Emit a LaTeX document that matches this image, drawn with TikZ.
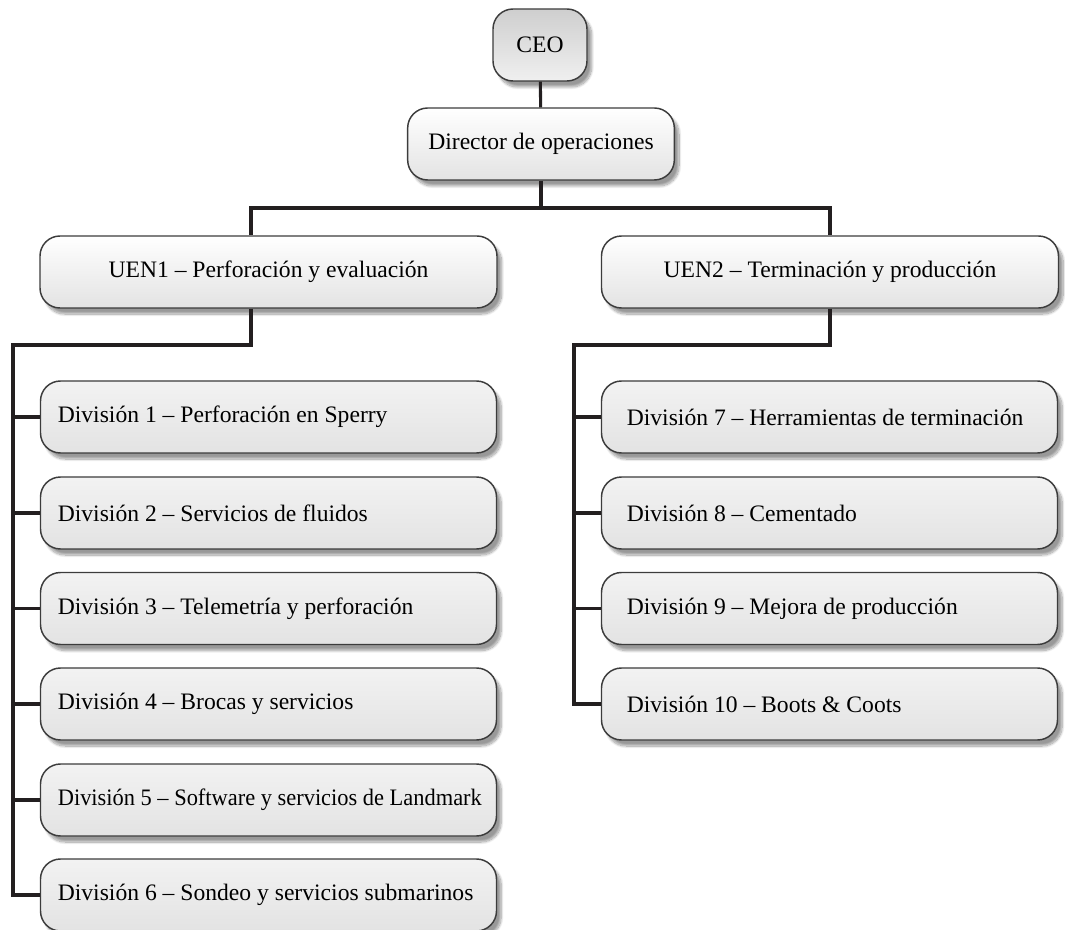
\documentclass[tikz,border=0pt]{standalone}
\usepackage{fontspec}
\setmainfont{Liberation Serif}
\newfontfamily\narrowfont[FakeStretch=0.95]{Liberation Serif}
\usetikzlibrary{shadows.blur,calc}
\definecolor{linec}{HTML}{231F20}
\definecolor{edgec}{HTML}{3C3C3C}
\newcommand\dtxt[2]{\makebox[342pt][l]{\hspace*{#1}#2}}
\tikzset{
  x=0.75pt, y=-0.75pt,
  box/.style={draw=edgec, line width=1.1pt, rounded corners=15pt,
    minimum height=54pt, inner sep=0pt, font=\fontsize{17.7}{21}\selectfont,
    blur shadow={shadow xshift=3.5pt, shadow yshift=-4.5pt, shadow blur steps=12, shadow blur extra rounding=3pt, shadow opacity=40}},
  ceobox/.style={box, top color=gray!38, bottom color=gray!12, minimum width=70.5pt},
  topbox/.style={box, top color=white, bottom color=gray!22},
  uenbox/.style={topbox, minimum width=342.75pt},
  divbox/.style={box, top color=gray!10, bottom color=gray!22, minimum width=342pt},
  conn/.style={draw=linec, line width=2.3pt}
}
\begin{document}
\begin{tikzpicture}
\useasboundingbox (0,0) rectangle (1065,930);
\node[ceobox] (ceo) at (540,45) {CEO};
\node[topbox, minimum width=200pt] (dir) at (541,144) {Director de operaciones};
\node[uenbox] (uen1) at (268.5,272) {UEN1 – Perforación y evaluación};
\node[uenbox] (uen2) at (830,272) {UEN2 – Terminación y producción};

\node[divbox] (d1) at (268.5,417) {\dtxt{13pt}{División 1 – Perforación en Sperry}};
\node[divbox] (d2) at (268.5,513) {\dtxt{13pt}{División 2 – Servicios de fluidos}};
\node[divbox] (d3) at (268.5,608.5) {\dtxt{13pt}{División 3 – Telemetría y perforación}};
\node[divbox] (d4) at (268.5,704) {\dtxt{13pt}{División 4 – Brocas y servicios}};
\node[divbox] (d5) at (268.5,800) {\dtxt{13pt}{\narrowfont División 5 – Software y servicios de Landmark}};
\node[divbox] (d6) at (268.5,895) {\dtxt{13pt}{División 6 – Sondeo y servicios submarinos}};

\node[divbox] (d7) at (829.5,417) {\dtxt{19pt}{División 7 – Herramientas de terminación}};
\node[divbox] (d8) at (829.5,513) {\dtxt{19pt}{División 8 – Cementado}};
\node[divbox] (d9) at (829.5,608.5) {\dtxt{19pt}{División 9 – Mejora de producción}};
\node[divbox] (d10) at (829.5,704) {\dtxt{19pt}{División 10 – Boots \& Coots}};

\coordinate (bar) at (541,208);
\coordinate (l1) at (251,0);
\coordinate (lj) at (13,345);
\coordinate (rj) at (574,345);

\draw[conn] (ceo) -- (dir);
\draw[conn] (dir.south) -- (bar);
\draw[conn] (uen1.north -| l1) |- (bar) -| (uen2.north);
\draw[conn] (uen1.south -| l1) |- (lj) |- (d6.west);
\draw[conn] (uen2.south) |- (rj) |- (d10.west);
\foreach \n in {d1,d2,d3,d4,d5} \draw[conn] (\n.west -| lj) -- (\n.west);
\foreach \n in {d7,d8,d9} \draw[conn] (\n.west -| rj) -- (\n.west);
\end{tikzpicture}
\end{document}
